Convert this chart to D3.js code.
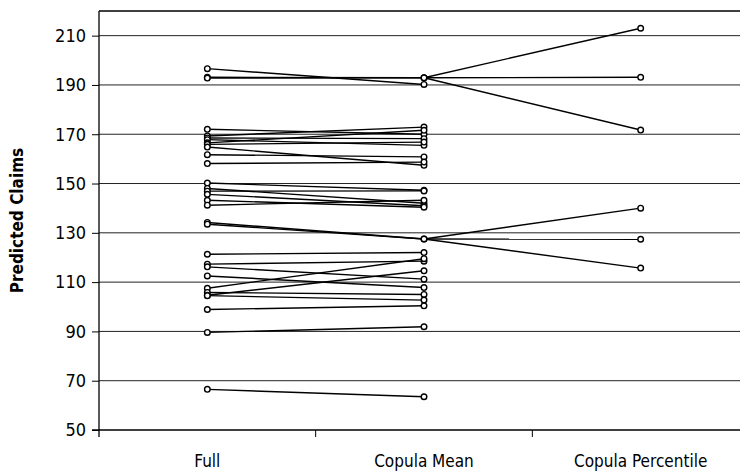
<!DOCTYPE html>
<html>
<head>
<meta charset="utf-8">
<script src="https://cdn.jsdelivr.net/npm/d3@7"></script>
<style>
  body { margin: 0; background: #fff; }
  text { font-family: "Liberation Sans Narrow", "Arial Narrow", "DejaVu Sans Condensed", sans-serif; }
</style>
</head>
<body>
<svg width="740" height="473"></svg>
<script>
// predicted claims: full model vs copula mean vs copula percentile

const categories = ["Full", "Copula Mean", "Copula Percentile"];
const yTicks = [50, 70, 90, 110, 130, 150, 170, 190, 210];

// each pair: Full value -> Copula Mean value
const fullVals = [196.6, 193.1, 192.8, 172.0, 169.3, 168.5, 167.8, 166.5, 165.9, 164.8, 161.7, 158.1,
  150.2, 148.0, 146.9, 145.6, 143.2, 141.2, 134.2, 133.5,
  121.3, 117.3, 116.2, 112.5, 107.5, 105.8, 104.7, 104.5, 98.9, 89.6, 66.5];
const meanVals = [190.2, 192.9, 192.9, 170.0, 172.9, 168.2, 165.5, 171.6, 166.8, 157.4, 160.8, 158.7,
  147.3, 142.0, 147.0, 141.0, 140.4, 143.2, 127.5, 127.5,
  122.0, 118.5, 111.2, 107.8, 119.5, 105.0, 114.6, 102.7, 100.4, 91.9, 63.5];

// Copula Mean value -> Copula Percentile value
const pctFrom = [192.9, 192.9, 192.9, 127.5, 127.5, 127.5];
const pctVals = [213.0, 193.1, 171.7, 140.0, 127.4, 115.7];

const svg = d3.select("svg");
const mLeft = 99, mTop = 11, mBottom = 430, mRight = 749;

const x = d3.scaleBand().domain(categories).range([mLeft, mRight]);
const y = d3.scaleLinear().domain([50, 220]).range([mBottom, mTop]);
const cx = c => x(c) + x.bandwidth() / 2;

// gridlines
svg.append("g")
  .selectAll("line")
  .data(yTicks.slice(1))
  .join("line")
  .attr("x1", mLeft).attr("x2", 740)
  .attr("y1", d => y(d)).attr("y2", d => y(d))
  .attr("stroke", "#222").attr("stroke-width", 1);

// top border
svg.append("line")
  .attr("x1", mLeft).attr("x2", 740)
  .attr("y1", mTop).attr("y2", mTop)
  .attr("stroke", "#000").attr("stroke-width", 1.3);

// y axis
const yAxis = svg.append("g")
  .attr("transform", `translate(${mLeft},0)`)
  .call(d3.axisLeft(y).tickValues(yTicks).tickSize(7).tickPadding(6));
yAxis.select(".domain").attr("d", `M0,${mTop}V${mBottom + 7}`).attr("stroke-width", 1.3);
yAxis.selectAll("text").attr("font-size", 18).attr("fill", "#000")
  .attr("font-family", null);

// x axis
svg.append("line")
  .attr("x1", mLeft - 7).attr("x2", 740)
  .attr("y1", mBottom).attr("y2", mBottom)
  .attr("stroke", "#000").attr("stroke-width", 1.3);
svg.append("g")
  .selectAll("line")
  .data(categories.slice(1))
  .join("line")
  .attr("x1", d => x(d)).attr("x2", d => x(d))
  .attr("y1", mBottom).attr("y2", mBottom + 7)
  .attr("stroke", "#000");
svg.append("g")
  .selectAll("text")
  .data(categories)
  .join("text")
  .attr("x", d => cx(d))
  .attr("y", 467)
  .attr("text-anchor", "middle")
  .attr("font-size", 17)
  .text(d => d);

svg.append("text")
  .attr("transform", `translate(23,${(mTop + mBottom) / 2}) rotate(-90)`)
  .attr("text-anchor", "middle")
  .attr("font-size", 17)
  .attr("font-weight", "bold")
  .text("Predicted Claims");

// lines
const pairs = fullVals.map((v, i) => [[cx("Full"), y(v)], [cx("Copula Mean"), y(meanVals[i])]])
  .concat(pctVals.map((v, i) => [[cx("Copula Mean"), y(pctFrom[i])], [cx("Copula Percentile"), y(v)]]));

svg.append("g")
  .attr("stroke", "#000")
  .attr("stroke-width", 1.4)
  .attr("fill", "none")
  .selectAll("line")
  .data(pairs)
  .join("line")
  .attr("x1", d => d[0][0]).attr("y1", d => d[0][1])
  .attr("x2", d => d[1][0]).attr("y2", d => d[1][1]);

// markers
const pts = fullVals.map(v => ["Full", v])
  .concat(meanVals.map(v => ["Copula Mean", v]))
  .concat(pctVals.map(v => ["Copula Percentile", v]));

svg.append("g")
  .attr("fill", "#fff")
  .attr("stroke", "#000")
  .attr("stroke-width", 1.4)
  .selectAll("circle")
  .data(pts)
  .join("circle")
  .attr("cx", d => cx(d[0]))
  .attr("cy", d => y(d[1]))
  .attr("r", 2.8);
</script>
</body>
</html>
